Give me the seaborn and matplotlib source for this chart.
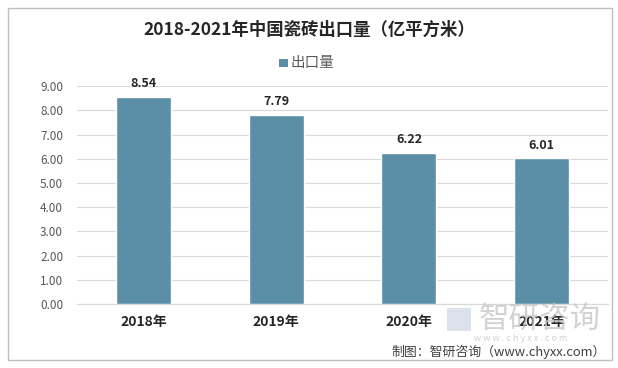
import matplotlib
matplotlib.use("Agg")
import matplotlib.pyplot as plt
import seaborn as sns
import pandas as pd
from matplotlib.patches import Rectangle

years = ["2018年", "2019年", "2020年", "2021年"]
export_volume = [8.54, 7.79, 6.22, 6.01]
yticks = [0, 1, 2, 3, 4, 5, 6, 7, 8, 9]

sns.set_style("white")
plt.rcParams['font.family'] = ['Noto Sans CJK SC', 'DejaVu Sans']

df = pd.DataFrame({"year": years, "value": export_volume})
bar_color = "#5b8fa8"

fig = plt.figure(figsize=(6.18, 3.68), dpi=100)
ax = fig.add_axes([0.1246, 0.174, 0.8594, 0.592])

sns.barplot(data=df, x="year", y="value", color=bar_color, width=0.415,
            saturation=1, ax=ax, zorder=3)

ax.set_ylim(0, 9)
ax.set_yticks(yticks)
ax.set_yticklabels([f"{v:.2f}" for v in yticks], color="#595959", fontsize=8.5)
ax.yaxis.grid(True, color="#d9d9d9", linewidth=0.8, zorder=0)
ax.tick_params(axis="both", length=0)
ax.tick_params(axis="y", pad=10)
for lbl in ax.get_xticklabels():
    lbl.set_fontweight("bold")
    lbl.set_fontsize(10)
    lbl.set_color("#262626")
ax.tick_params(axis="x", pad=8)
ax.set_xlabel("")
ax.set_ylabel("")
for s in ["top", "right", "left"]:
    ax.spines[s].set_visible(False)
ax.spines["bottom"].set_color("#d9d9d9")

for p, v in zip(ax.patches, export_volume):
    ax.annotate(f"{v:.2f}", (p.get_x() + p.get_width() / 2, v),
                xytext=(0, 5), textcoords="offset points", ha="center", va="bottom",
                fontsize=9, fontweight="bold", color="#262626")

# outer frame
fig.patches.append(Rectangle((0.013, 0.022), 0.978, 0.957, transform=fig.transFigure,
                             fill=False, edgecolor="#bfbfbf", linewidth=1))

fig.text(0.5, 0.918, "2018-2021年中国瓷砖出口量（亿平方米）", ha="center", va="center",
         fontsize=12.5, fontweight="bold", color="#262626")

# legend
fig.patches.append(Rectangle((0.4515, 0.817), 0.014, 0.024, transform=fig.transFigure,
                             facecolor=bar_color, edgecolor="none"))
fig.text(0.47, 0.829, "出口量", ha="left", va="center", fontsize=10.5, color="#595959")

# watermark (logo + name)
fig.patches.append(Rectangle((0.724, 0.1), 0.038, 0.062, transform=fig.transFigure,
                             facecolor="#d3dbe6", edgecolor="none", alpha=0.8, zorder=0))
fig.text(0.873, 0.132, "智研咨询", ha="center", va="center", fontsize=22,
         color="#c4c4c4", alpha=0.75)
fig.text(0.843, 0.079, "w w w . c h y x x . c o m", ha="center", va="center", fontsize=6.5,
         color="#d0d0d0")

fig.text(0.98, 0.045, "制图：智研咨询（www.chyxx.com）", ha="right", va="center",
         fontsize=9.3, color="#404040")

fig.savefig("out.png", dpi=100)
